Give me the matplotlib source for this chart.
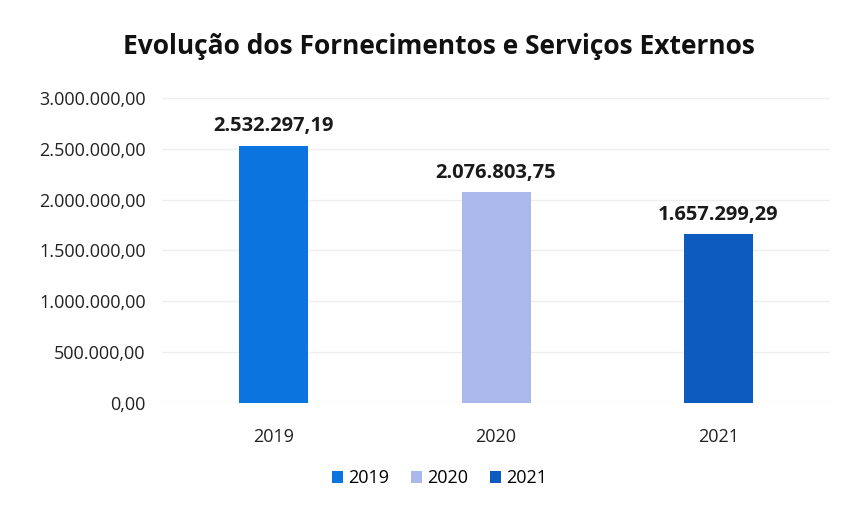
import numpy as np
import matplotlib.pyplot as plt

# Dados
anos = ['2019', '2020', '2021']
valores = [2532297.19, 2076803.75, 1657299.29]
rotulos = ['2.532.297,19', '2.076.803,75', '1.657.299,29']
cores = ['#0b74df', '#abb8ec', '#0d5bbf']
yticks = [0, 500000, 1000000, 1500000, 2000000, 2500000, 3000000]
ytick_labels = ['0,00', '500.000,00', '1.000.000,00', '1.500.000,00',
                '2.000.000,00', '2.500.000,00', '3.000.000,00']

plt.rcParams['font.family'] = ['Open Sans', 'DejaVu Sans']

fig = plt.figure(figsize=(8.45, 5.05), dpi=100)
ax = fig.add_axes([0.192, 0.202, 0.790, 0.604])

x = np.arange(len(anos))
barras = ax.bar(x, valores, width=0.31, color=cores, label=anos, zorder=3)
for xi, v, r in zip(x, valores, rotulos):
    ax.text(xi, v + 90000, r, ha='center', va='bottom', fontsize=14.5,
            fontweight='bold', color='#1a1a1a')

ax.set_xlim(-0.5, 2.5)
ax.set_ylim(0, 3000000)
ax.set_yticks(yticks)
ax.set_yticklabels(ytick_labels, fontsize=13, color='#222222')
ax.set_xticks(x)
ax.set_xticklabels(anos, fontsize=13, color='#222222')
ax.tick_params(length=0)
ax.tick_params(axis='y', pad=12)
ax.tick_params(axis='x', pad=18)
ax.grid(axis='y', color='#eeeeee', linewidth=1, zorder=0)
for s in ax.spines.values():
    s.set_visible(False)

fig.suptitle('Evolução dos Fornecimentos e Serviços Externos', x=0.52, y=0.935,
             fontsize=19, fontweight='bold', color='#111111')
fig.legend(handles=barras, labels=anos, loc='center', bbox_to_anchor=(0.52, 0.053),
           ncol=3, frameon=False, fontsize=13, handlelength=0.6, handleheight=0.6,
           handletextpad=0.3, columnspacing=1.2)

fig.savefig('out.png', dpi=100)
